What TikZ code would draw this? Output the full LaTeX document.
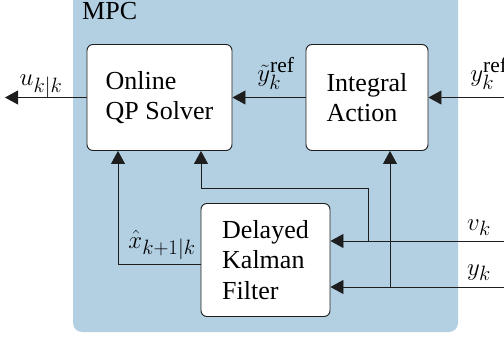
\documentclass[tikz,border=0pt]{standalone}
\usepackage{fontspec}
\setmainfont{Liberation Serif}
\usetikzlibrary{arrows.meta}
\DeclareMathSizes{26}{26}{21.5}{16}
\definecolor{mpcbg}{RGB}{179,208,227}
\definecolor{linec}{RGB}{30,30,30}
\tikzset{
  blockbox/.style={draw=linec, line width=0.9pt, fill=white, rounded corners=6pt, align=left, inner sep=0pt,
    font=\fontsize{26}{30.5}\selectfont},
  conn/.style={draw=linec, line width=0.9pt},
  arr/.style={conn, -{Triangle[length=13pt,width=14pt]}},
  lbl/.style={anchor=base, inner sep=0pt, font=\fontsize{26}{30.5}\selectfont},
}
\begin{document}
\begin{tikzpicture}[x=1pt,y=-1pt]
\useasboundingbox (0,0) rectangle (504,337);
\fill[mpcbg, rounded corners=9pt] (73,-10) rectangle (458,332);
\node[lbl, anchor=base west] (mpc) at (82,20) {MPC};
\node[blockbox, minimum width=145pt, minimum height=106pt] (qp) at (159.5,97.5) {Online\\QP Solver};
\node[blockbox, minimum width=122pt, minimum height=106pt] (ia) at (367,97.5) {Integral\\Action};
\node[blockbox, minimum width=129pt, minimum height=113pt] (kf) at (265.5,260) {Delayed\\Kalman\\Filter};
% coordinates
\coordinate (uo) at (5,97.5);
\coordinate (yr) at (504,97.5);
\coordinate (vin) at (504,241);
\coordinate (yin) at (504,287);
\coordinate (vb) at (368,241);
\coordinate (yb) at (390,287);
% u output
\draw[arr] (qp.west) -- (uo);
\node[lbl] (ul) at (41,86) {$u_{k|k}$};
% integral -> qp
\draw[arr] (ia.west) -- (qp.east);
\node[lbl] (ytl) at (276,82) {$\tilde{y}_k^{\mathrm{ref}}$};
% yref -> integral
\draw[arr] (yr) -- (ia.east);
\node[lbl] (yrl) at (489,82) {$y_k^{\mathrm{ref}}$};
% xhat
\draw[arr] ([yshift=-4pt]kf.west) -| ([xshift=-41.5pt]qp.south);
\node[lbl] (xl) at (162,248) {$\hat{x}_{k+1|k}$};
% v_k
\draw[arr] (vin) -- (vin -| kf.east);
\draw[arr] (vb) |- (201,188) -- ([xshift=41.5pt]qp.south);
\node[lbl] (vl) at (479,230) {$v_k$};
% y_k
\draw[arr] (yin) -- (yin -| kf.east);
\draw[arr] (yb) -- (yb |- ia.south);
\node[lbl] (yl) at (479,275) {$y_k$};
\end{tikzpicture}
\end{document}
